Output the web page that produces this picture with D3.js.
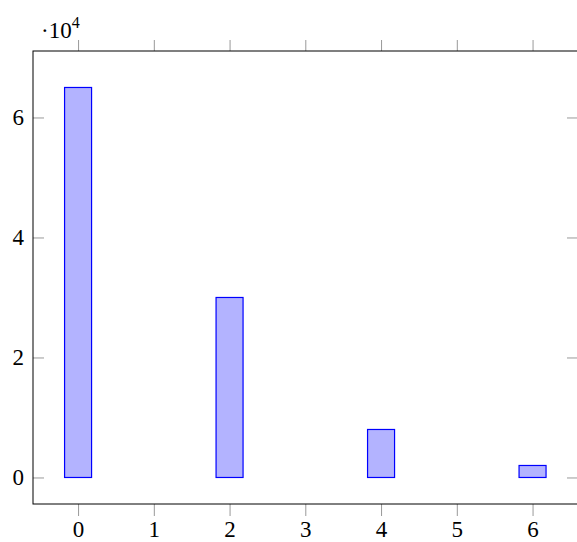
<!DOCTYPE html>
<html><head><meta charset="utf-8">
<script src="https://cdn.jsdelivr.net/npm/d3@7"></script>
<style>body{margin:0;background:#fff;}svg{display:block;}</style>
</head><body>
<script>
const categories = [0, 2, 4, 6];
const values = [65000, 30000, 8000, 2000];
const xTicks = [0, 1, 2, 3, 4, 5, 6];
const yTicks = [0, 20000, 40000, 60000];
const yTickLabels = ["0", "2", "4", "6"];

const FONT = "'Liberation Serif', 'DejaVu Serif', serif";
const FS = 23;
const W = 577, H = 542;
const L = 33, R = 578, T = 51, B = 504;
const svg = d3.select("body").append("svg").attr("width", W).attr("height", H);

const x = d3.scaleLinear().domain([-0.595, 6.6]).range([L, R]);
const y = d3.scaleLinear().domain([-4420, 71080]).range([B, T]);

const tickColor = "#999";
// bars
const bw = 27;
svg.selectAll("rect.bar").data(categories).enter().append("rect")
  .attr("x", (d) => x(d) - bw / 2)
  .attr("y", (d, i) => y(values[i]))
  .attr("width", bw)
  .attr("height", (d, i) => y(0) - y(values[i]))
  .attr("fill", "#b3b3ff").attr("stroke", "#0000ff").attr("stroke-width", 1.2);

// bottom axis
const xb = svg.append("g").attr("transform", `translate(0,${B})`)
  .call(d3.axisBottom(x).tickValues(xTicks).tickSize(12).tickPadding(5).tickFormat(d3.format("d")))
  .attr("font-family", FONT).attr("font-size", FS);
xb.select(".domain").remove();
xb.selectAll("line").attr("stroke", tickColor);
xb.selectAll("text").attr("fill", "#000");

// top ticks
const xt = svg.append("g").attr("transform", `translate(0,${T})`)
  .call(d3.axisTop(x).tickValues(xTicks).tickSize(11).tickFormat(""));
xt.select(".domain").remove();
xt.selectAll("line").attr("stroke", tickColor);

// left axis (ticks inward)
const yl = svg.append("g").attr("transform", `translate(${L},0)`)
  .call(d3.axisLeft(y).tickValues(yTicks).tickSize(-11).tickPadding(9).tickFormat((d, i) => yTickLabels[i]))
  .attr("font-family", FONT).attr("font-size", FS);
yl.select(".domain").remove();
yl.selectAll("line").attr("stroke", tickColor);
yl.selectAll("text").attr("fill", "#000");

// right ticks inward
const yr = svg.append("g").attr("transform", `translate(${R},0)`)
  .call(d3.axisRight(y).tickValues(yTicks).tickSize(-11).tickFormat(""));
yr.select(".domain").remove();
yr.selectAll("line").attr("stroke", tickColor);

// frame
svg.append("rect").attr("x", L).attr("y", T).attr("width", R - L).attr("height", B - T)
  .attr("fill", "none").attr("stroke", "#000").attr("stroke-width", 1);

// multiplier
const m = svg.append("text").attr("x", 41).attr("y", 38).attr("font-size", FS)
  .attr("font-family", FONT).attr("fill", "#000");
m.append("tspan").text("·10");
m.append("tspan").attr("dy", -10).attr("font-size", 16).text("4");
</script>
</body></html>
